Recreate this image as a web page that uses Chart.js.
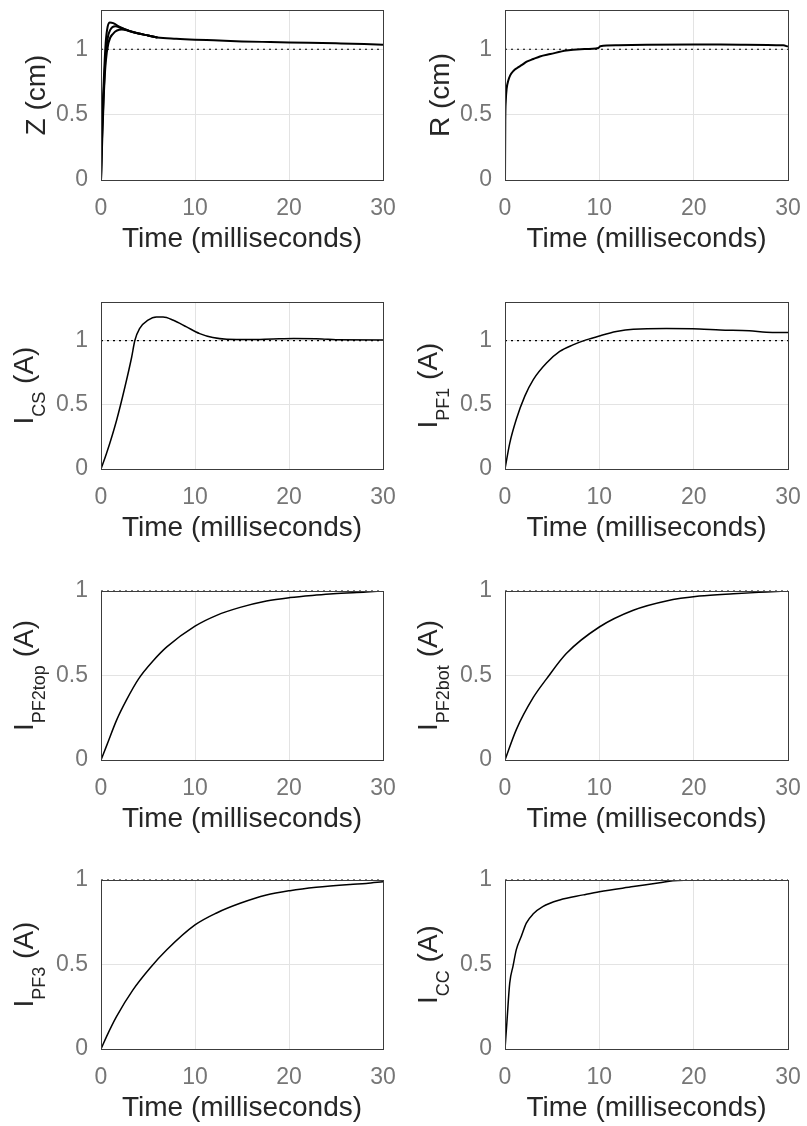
<!DOCTYPE html>
<html>
<head>
<meta charset="utf-8">
<script src="https://cdn.jsdelivr.net/npm/chart.js@4/dist/chart.umd.min.js"></script>
<style>
  html, body { margin: 0; padding: 0; background: #ffffff; width: 807px; height: 1126px; overflow: hidden; position: relative; }
  canvas { position: absolute; }
</style>
</head>
<body>
<script>
// ---------- data ----------
const xTicks = [0, 10, 20, 30];
const yTicks = [0, 0.5, 1];
const refT = [0, 30];
const refV = [1, 1];
const xTitle = 'Time (milliseconds)';

// Z (cm): several overlapping responses
const tZ1 = [0, 0.05, 0.1, 0.2, 0.35, 0.5, 0.7, 0.95, 1.3, 2, 3, 4, 5, 6, 8, 10, 12, 15, 18, 20, 25, 28, 30];
const vZ1 = [0, 0.25, 0.41, 0.6, 0.85, 1.05, 1.17, 1.205, 1.2, 1.17, 1.14, 1.12, 1.105, 1.09, 1.08, 1.073, 1.068, 1.06, 1.055, 1.052, 1.045, 1.04, 1.035];
const tZ2 = [0, 0.1, 0.25, 0.45, 0.7, 1.0, 1.5, 2.2, 3, 4, 5, 6];
const vZ2 = [0, 0.3, 0.6, 0.9, 1.08, 1.15, 1.175, 1.16, 1.14, 1.12, 1.105, 1.09];
const tZ3 = [0, 0.15, 0.3, 0.5, 0.8, 1.3, 2.2, 3, 4, 5, 6];
const vZ3 = [0, 0.35, 0.65, 0.9, 1.05, 1.12, 1.15, 1.14, 1.12, 1.105, 1.09];

// R (cm)
const tR = [0, 0.03, 0.08, 0.18, 0.35, 0.55, 0.9, 1.25, 1.8, 2.3, 3, 3.7, 4.8, 6.5, 8, 9.9, 10.1, 12, 15, 20, 25, 29.5, 30];
const vR = [0, 0.45, 0.6, 0.7, 0.76, 0.8, 0.835, 0.855, 0.88, 0.905, 0.925, 0.945, 0.963, 0.99, 1.0, 1.01, 1.022, 1.03, 1.035, 1.037, 1.035, 1.03, 1.02];

// I_CS (A)
const tCS = [0, 0.6, 1.66, 2.55, 3.26, 3.6, 4.1, 5.0, 5.9, 6.6, 7.7, 9.1, 10.5, 11.9, 13.4, 15.8, 18.3, 20.5, 23.5, 25, 30];
const vCS = [0, 0.124, 0.38, 0.64, 0.87, 1.0, 1.093, 1.158, 1.183, 1.183, 1.158, 1.106, 1.054, 1.023, 1.01, 1.008, 1.012, 1.015, 1.012, 1.006, 1.005];

// I_PF1 (A)
const tPF1 = [0, 0.5, 1.2, 2.1, 3.0, 4.4, 5.8, 7.2, 8.6, 10.0, 11.8, 13.6, 17.1, 20.6, 22.8, 25.9, 27.7, 30];
const vPF1 = [0, 0.2, 0.387, 0.567, 0.696, 0.825, 0.915, 0.966, 1.005, 1.036, 1.07, 1.088, 1.093, 1.09, 1.082, 1.077, 1.065, 1.062];

// I_PF2top (A)
const tPF2t = [0, 0.6, 1.66, 2.7, 4.0, 5.6, 7.0, 10.0, 12.3, 14.8, 17.6, 20.1, 22.9, 24.7, 28.2, 30];
const vPF2t = [0, 0.085, 0.236, 0.354, 0.48, 0.59, 0.669, 0.792, 0.856, 0.903, 0.941, 0.961, 0.976, 0.984, 0.994, 1.0];

// I_PF2bot (A)
const tPF2b = [0, 1.2, 3.0, 4.4, 6.5, 10.0, 13.6, 17.1, 20.6, 24.2, 27.7, 30];
const vPF2b = [0, 0.18, 0.37, 0.48, 0.63, 0.787, 0.886, 0.941, 0.97, 0.984, 0.994, 1.0];

// I_PF3 (A)
const tPF3 = [0, 0.6, 1.66, 3.4, 5.2, 7.0, 10.0, 12.3, 14.8, 17.6, 20.1, 22.9, 26.5, 28.2, 30];
const vPF3 = [0, 0.075, 0.193, 0.35, 0.478, 0.587, 0.734, 0.805, 0.862, 0.911, 0.937, 0.957, 0.974, 0.98, 0.99];

// I_CC (A)
const tCC = [0, 0.2, 0.5, 0.85, 1.2, 1.73, 2.26, 3.0, 4.0, 5.8, 8.3, 10.0, 13.6, 16.4, 17.8, 20.6, 30];
const vCC = [0, 0.157, 0.39, 0.49, 0.588, 0.667, 0.745, 0.80, 0.843, 0.882, 0.912, 0.931, 0.961, 0.984, 0.996, 1.0, 1.0];

// ---------- layout ----------
const FONT = "'Liberation Sans', Arial, Helvetica, sans-serif";
Chart.defaults.font.family = FONT;

const panels = [
  { L: 101, T: 10,  R: 383, B: 180,  col: 0, ymax: 1.3, lab: { main: 'Z (cm)' }, series: [[tZ1, vZ1], [tZ2, vZ2], [tZ3, vZ3]], lw: 2 },
  { L: 505, T: 10,  R: 788, B: 180,  col: 1, ymax: 1.3, lab: { main: 'R (cm)' }, series: [[tR, vR]], lw: 2 },
  { L: 101, T: 302, R: 383, B: 469,  col: 0, ymax: 1.3, lab: { main: 'I', sub: 'CS', tail: ' (A)' }, series: [[tCS, vCS]], lw: 1.5 },
  { L: 505, T: 302, R: 788, B: 469,  col: 1, ymax: 1.3, lab: { main: 'I', sub: 'PF1', tail: ' (A)' }, series: [[tPF1, vPF1]], lw: 1.5 },
  { L: 101, T: 591, R: 383, B: 760,  col: 0, ymax: 1,   lab: { main: 'I', sub: 'PF2top', tail: ' (A)' }, series: [[tPF2t, vPF2t]], lw: 1.5 },
  { L: 505, T: 591, R: 788, B: 760,  col: 1, ymax: 1,   lab: { main: 'I', sub: 'PF2bot', tail: ' (A)' }, series: [[tPF2b, vPF2b]], lw: 1.5 },
  { L: 101, T: 880, R: 383, B: 1049, col: 0, ymax: 1,   lab: { main: 'I', sub: 'PF3', tail: ' (A)' }, series: [[tPF3, vPF3]], lw: 1.5 },
  { L: 505, T: 880, R: 788, B: 1049, col: 1, ymax: 1,   lab: { main: 'I', sub: 'CC', tail: ' (A)' }, series: [[tCC, vCC]], lw: 1.5 }
];
const colStart = [0, 403];
const colEnd = [403, 807];
const XH = 100;

function zeroPad(s) {
  s.paddingLeft = 0; s.paddingRight = 0; s.paddingTop = 0; s.paddingBottom = 0;
}

const boxPlugin = {
  id: 'boxAndLabel',
  afterDraw(chart) {
    const ca = chart.chartArea;
    const ctx = chart.ctx;
    ctx.save();
    ctx.strokeStyle = '#3c3c3c';
    ctx.lineWidth = 1;
    ctx.strokeRect(Math.round(ca.left) + 0.5, Math.round(ca.top) + 0.5, Math.round(ca.right - ca.left), Math.round(ca.bottom - ca.top));
    ctx.restore();

    const lab = chart.options.plugins.boxAndLabel.lab;
    const cy = (ca.top + ca.bottom) / 2;
    const mainFont = '28px ' + FONT;
    const subFont = '18px ' + FONT;
    ctx.save();
    ctx.fillStyle = '#262626';
    ctx.textBaseline = 'alphabetic';
    ctx.textAlign = 'left';
    ctx.font = mainFont;
    const wMain = ctx.measureText(lab.main).width;
    const wTail = lab.tail ? ctx.measureText(lab.tail).width : 0;
    ctx.font = subFont;
    const wSub = lab.sub ? ctx.measureText(lab.sub).width : 0;
    const total = wMain + wSub + wTail;
    const baseX = lab.sub ? ca.left - 68 : ca.left - 56;
    ctx.translate(baseX, cy);
    ctx.rotate(-Math.PI / 2);
    let x = -total / 2;
    ctx.font = mainFont;
    ctx.fillText(lab.main, x, 0);
    x += wMain;
    if (lab.sub) {
      ctx.font = subFont;
      ctx.fillText(lab.sub, x, 12);
      x += wSub;
    }
    if (lab.tail) {
      ctx.font = mainFont;
      ctx.fillText(lab.tail, x, 0);
    }
    ctx.restore();
  }
};

panels.forEach((p, i) => {
  const YW = p.L - colStart[p.col];
  const PR = colEnd[p.col] - p.R;
  const PT = Math.min(20, p.T);
  const W = YW + (p.R - p.L) + PR;
  const H = PT + (p.B - p.T) + XH;
  const cv = document.createElement('canvas');
  cv.width = W; cv.height = H;
  cv.style.left = colStart[p.col] + 'px';
  cv.style.top = (p.T - PT) + 'px';
  cv.style.width = W + 'px';
  cv.style.height = H + 'px';
  document.body.appendChild(cv);

  const datasets = p.series.map(([ts, vs]) => ({
    data: ts.map((t, k) => ({ x: t, y: vs[k] })),
    borderColor: '#000000',
    borderWidth: p.lw,
    pointRadius: 0,
    cubicInterpolationMode: 'monotone',
    fill: false
  }));
  datasets.push({
    data: refT.map((t, k) => ({ x: t, y: refV[k] })),
    borderColor: '#000000',
    borderWidth: 1.2,
    borderDash: [2, 4],
    pointRadius: 0,
    fill: false,
    clip: 4
  });

  new Chart(cv, {
    type: 'line',
    data: { datasets },
    plugins: [boxPlugin],
    options: {
      responsive: false,
      animation: false,
      devicePixelRatio: 1,
      layout: { padding: { top: PT, right: PR, left: 0, bottom: 0 } },
      plugins: {
        legend: { display: false },
        tooltip: { enabled: false },
        boxAndLabel: { lab: p.lab }
      },
      scales: {
        x: {
          type: 'linear',
          min: 0, max: 30,
          afterBuildTicks: s => { s.ticks = xTicks.map(v => ({ value: v })); },
          afterFit: s => { s.height = XH; zeroPad(s); },
          ticks: { font: { size: 23 }, color: '#767676', padding: 15, maxRotation: 0, autoSkip: false },
          grid: { color: '#e3e3e3', drawTicks: false, lineWidth: 1 },
          border: { display: false },
          title: { display: true, text: xTitle, font: { size: 28 }, color: '#262626', padding: { top: 0, bottom: XH - 59 - 16.8 } }
        },
        y: {
          type: 'linear',
          min: 0, max: p.ymax,
          afterBuildTicks: s => { s.ticks = yTicks.map(v => ({ value: v })); },
          afterFit: s => { s.width = YW; zeroPad(s); },
          ticks: { font: { size: 23 }, color: '#767676', padding: 13, callback: v => String(v) },
          grid: { color: '#e3e3e3', drawTicks: false, lineWidth: 1 },
          border: { display: false }
        }
      }
    }
  });
});
</script>
</body>
</html>
